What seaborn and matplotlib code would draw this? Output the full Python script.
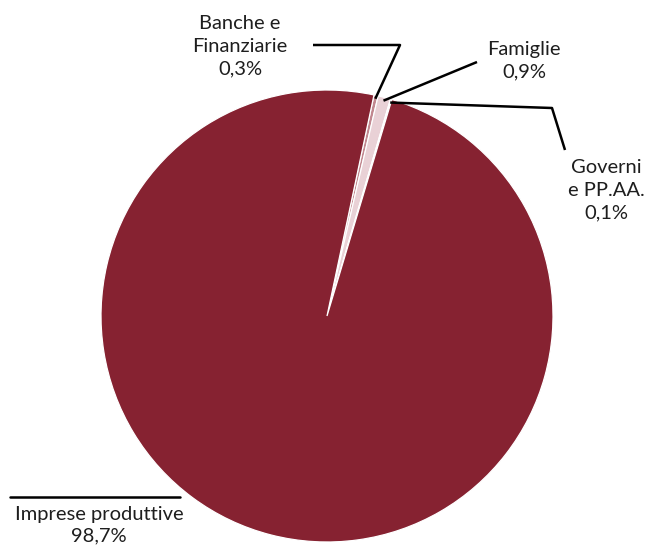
import numpy as np
import matplotlib
matplotlib.use("Agg")
import matplotlib.pyplot as plt
import seaborn as sns

# Quote per settore
categorie = ["Banche e\nFinanziarie", "Famiglie", "Governi\ne PP.AA.", "Imprese produttive"]
quote = [0.3, 0.9, 0.1, 98.7]
colori = ["#c1878f", "#e9d1d6", "#f8f1f2", "#862231"]

sns.set_theme(style="white")
plt.rcParams["font.family"] = ["Lato", "DejaVu Sans"]

W, H = 648, 546
fig = plt.figure(figsize=(W / 100, H / 100), dpi=100)
ax = fig.add_axes([0, 0, 1, 1])
ax.set_xlim(0, W)
ax.set_ylim(0, H)
ax.set_aspect("equal")
ax.axis("off")

cx, cy, r = 327, H - 316, 226
wedges, _ = ax.pie(quote, colors=colori, startangle=78, counterclock=False,
                   center=(cx, cy), radius=r,
                   wedgeprops=dict(edgecolor="white", linewidth=0.9))
ax.set_xlim(0, W)
ax.set_ylim(0, H)


def fmt(v):
    return f"{v:.1f}".replace(".", ",") + "%"


def anchor(w, frac=0.985):
    th = np.deg2rad((w.theta1 + w.theta2) / 2)
    return cx + r * frac * np.cos(th), cy + r * frac * np.sin(th)


style = dict(ha="center", va="center", fontsize=14.5, color="#1e1e1e", linespacing=1.4)

# Linee guida: (punti dal testo verso la fetta, posizione testo)
guide = [
    ([(313, H - 45), (400, H - 45)], (240, H - 46)),
    ([(477, H - 62)], (524, H - 61)),
    ([(565, H - 150), (552, H - 108)], (606, H - 190)),
]
for w, nome, q, (punti, (tx, ty)) in zip(wedges[:3], categorie[:3], quote[:3], guide):
    ax_, ay_ = anchor(w)
    xs = [p[0] for p in punti] + [ax_]
    ys = [p[1] for p in punti] + [ay_]
    ax.plot(xs, ys, color="black", lw=1.8, solid_capstyle="butt")
    ax.text(tx, ty, f"{nome}\n{fmt(q)}", **style)

# Etichetta della fetta principale
ax.plot([10, 180], [H - 497, H - 497], color="black", lw=1.8)
ax.text(99, H - 525, f"{categorie[3]}\n{fmt(quote[3])}", **{**style, "linespacing": 1.3})

fig.savefig("out.png", dpi=100, facecolor="white")
